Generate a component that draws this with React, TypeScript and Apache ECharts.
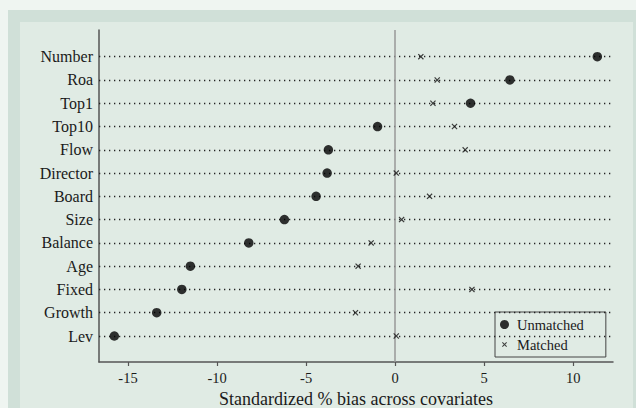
import React, { useEffect, useRef } from "react";
import * as echarts from "echarts";

const categories = ["Number", "Roa", "Top1", "Top10", "Flow", "Director", "Board", "Size", "Balance", "Age", "Fixed", "Growth", "Lev"];
const unmatched = [11.35, 6.44, 4.23, -0.99, -3.75, -3.82, -4.44, -6.22, -8.22, -11.5, -11.98, -13.39, -15.77];
const matched = [1.44, 2.36, 2.12, 3.33, 3.93, 0.06, 1.93, 0.36, -1.35, -2.08, 4.31, -2.23, 0.06];
const xTicks = [-15, -10, -5, 0, 5, 10];

const FONT = "'Liberation Serif', 'Times New Roman', serif";
const XSHAPE = "M0,1.4 L1.4,0 L5,3.6 L8.6,0 L10,1.4 L6.4,5 L10,8.6 L8.6,10 L5,6.4 L1.4,10 L0,8.6 L3.6,5 Z";
const XPATH = "path://" + XSHAPE;
const XPATH_LEGEND = "path://M-4,-4 L-3.99,-4 L-4,-3.99 Z M14,14 L13.99,14 L14,13.99 Z " + XSHAPE;

export default function App() {
  const ref = useRef<HTMLDivElement>(null);
  useEffect(() => {
    const chart = echarts.init(ref.current!, undefined, { renderer: "svg" });
    chart.setOption({
      animation: false,
      backgroundColor: "#eff5f1",
      graphic: [
        { type: "rect", z: -10, shape: { x: 8, y: 10, width: 640, height: 410 }, style: { fill: "#d0e0d8" } },
        { type: "rect", z: -9, shape: { x: 20, y: 22, width: 613, height: 400 }, style: { fill: "#e0ebe4" } },
      ],
      grid: { left: 99, right: 23, top: 30, bottom: 46, containLabel: false, outerBoundsMode: "none" },
      xAxis: {
        type: "value",
        min: -16.63,
        max: 12.23,
        name: "Standardized % bias across covariates",
        nameLocation: "middle",
        nameGap: 22,
        nameTextStyle: { fontFamily: FONT, fontSize: 18, color: "#1a1a1a" },
        axisLine: { onZero: false, lineStyle: { color: "#555", width: 1.5 } },
        axisTick: { show: true, length: 4, customValues: xTicks, lineStyle: { color: "#555", width: 1.2 } },
        axisLabel: { customValues: xTicks, margin: 8, fontFamily: FONT, fontSize: 14.5, color: "#1a1a1a" },
        splitLine: { show: false },
      },
      yAxis: {
        type: "value",
        inverse: true,
        min: -1.147,
        max: 13.117,
        axisLine: { show: true, onZero: false, lineStyle: { color: "#555", width: 1.5 } },
        axisTick: { show: false },
        axisLabel: {
          customValues: categories.map((_, i) => i),
          formatter: (v: number) => categories[Math.round(v)] ?? "",
          margin: 6,
          fontFamily: FONT,
          fontSize: 16,
          color: "#1a1a1a",
        },
        splitLine: { show: false },
      },
      legend: {
        orient: "vertical",
        left: 495,
        top: 312,
        backgroundColor: "#e0ebe4",
        borderColor: "#444",
        borderWidth: 1,
        borderRadius: 0,
        padding: [5, 22, 5, 5],
        itemGap: 5,
        itemWidth: 9,
        itemHeight: 9,
        textStyle: { fontFamily: FONT, fontSize: 14.5, color: "#1a1a1a", padding: [0, 0, 0, 3] },
        data: [
          { name: "Unmatched", icon: "circle" },
          { name: "Matched", icon: XPATH_LEGEND },
        ],
      },
      series: [
        {
          name: "Unmatched",
          type: "scatter",
          symbol: "circle",
          symbolSize: 9.5,
          itemStyle: { color: "#000" },
          z: 5,
          data: unmatched.map((v, i) => [v, i]),
          markLine: {
            silent: true,
            symbol: "none",
            label: { show: false },
            lineStyle: { color: "#222", width: 1.3, type: [1.3, 3.7] },
            data: categories.map((_, i) => ({ yAxis: i })),
          },
        },
        {
          name: "Matched",
          type: "scatter",
          symbol: XPATH,
          symbolSize: 6,
          itemStyle: { color: "#111" },
          z: 5,
          data: matched.map((v, i) => [v, i]),
          markLine: {
            silent: true,
            symbol: "none",
            label: { show: false },
            lineStyle: { color: "#999", width: 1.5, type: "solid" },
            data: [{ xAxis: 0 }],
          },
        },
      ],
    });
    return () => chart.dispose();
  }, []);
  return <div ref={ref} style={{ position: "absolute", left: 0, top: 0, width: 636, height: 408 }} />;
}
